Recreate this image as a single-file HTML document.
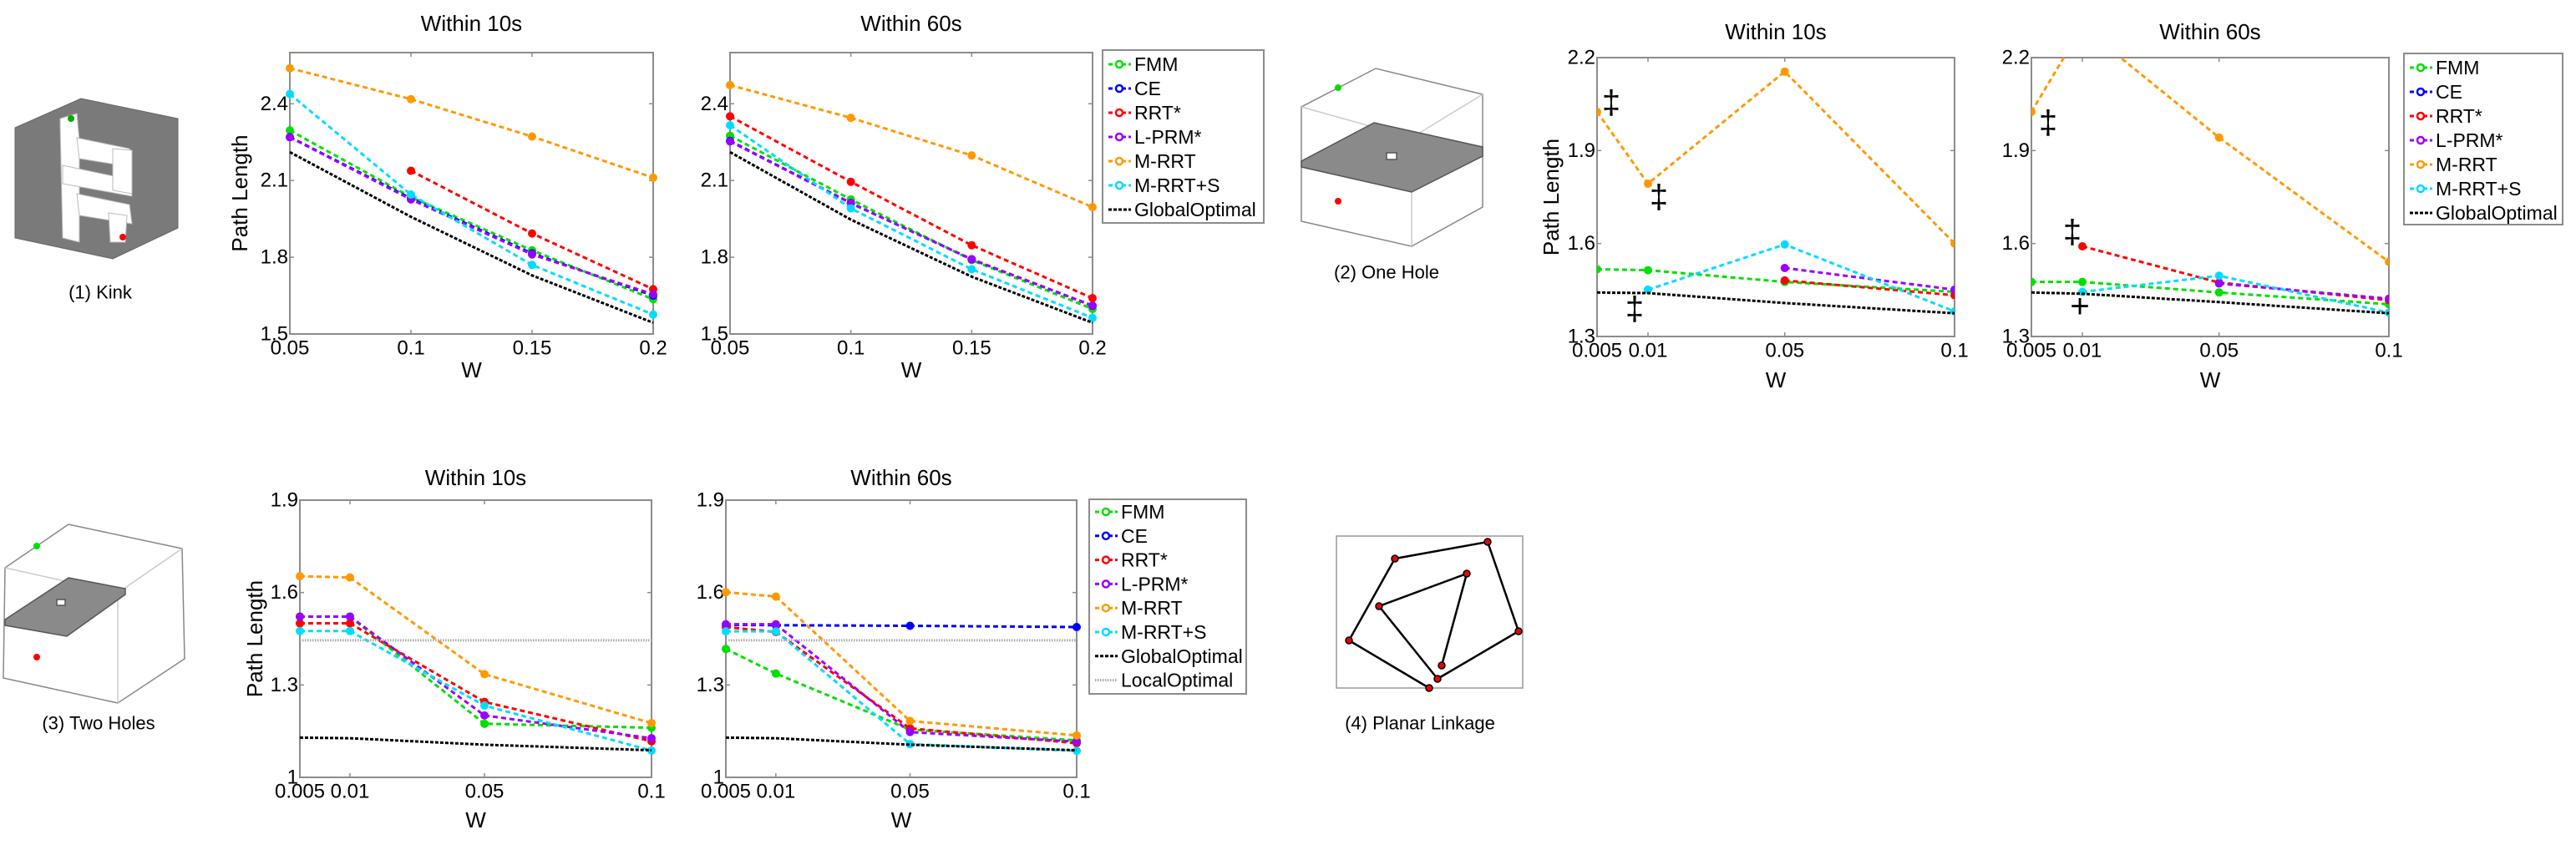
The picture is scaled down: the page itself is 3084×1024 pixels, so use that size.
<!DOCTYPE html>
<html><head><meta charset="utf-8">
<style>
html,body{margin:0;padding:0;background:#fff;}
svg{display:block;font-family:"Liberation Sans",sans-serif;}
</style></head>
<body>
<svg id="fig" width="3084" height="1024" viewBox="0 0 3084 1024" xmlns="http://www.w3.org/2000/svg">
<defs>
<clipPath id="clipC"><rect x="1912" y="69" width="428" height="334"/></clipPath>
<clipPath id="clipD"><rect x="2432" y="69" width="428" height="334"/></clipPath>
</defs>

<!-- (1) Kink illustration -->
<g>
<polygon points="97,118 213,142 213,273 135,310 18,285 18,153" fill="#7a7a7a" stroke="#666"/>
<polygon points="72,142 92,136 95,168 95,290 75,285 72,150" fill="#fff" stroke="#bbb"/>
<polygon points="92,165 155,178 158,200 95,190" fill="#fff" stroke="#bbb"/>
<polygon points="75,198 155,215 158,235 75,220" fill="#fff" stroke="#bbb"/>
<polygon points="92,232 155,245 158,268 95,258" fill="#fff" stroke="#bbb"/>
<polygon points="135,178 158,180 158,232 135,228" fill="#fff" stroke="#bbb"/>
<polygon points="130,255 152,258 150,290 132,290" fill="#fff" stroke="#bbb"/>
<circle cx="85" cy="142" r="4" fill="#0a0"/>
<circle cx="147" cy="284" r="4" fill="#f00"/>
</g>
<text x="120" y="350" font-size="22" text-anchor="middle" dominant-baseline="central">(1) Kink</text>

<!-- (2) One hole illustration -->
<g fill="none" stroke="#888" stroke-width="1.5">
<polygon points="1647,82 1775,113 1775,248 1690,295 1558,265 1558,128"/>
<line x1="1558" y1="128" x2="1690" y2="165" stroke="#ccc"/>
<line x1="1690" y1="165" x2="1775" y2="113" stroke="#ccc"/>
<line x1="1690" y1="165" x2="1690" y2="295" stroke="#ccc"/>
<polygon points="1645,147 1775,176 1775,187 1690,230 1558,200 1558,193" fill="#8a8a8a" stroke="#555"/>
<rect x="1660" y="183" width="12" height="8" fill="#fff" stroke="#555"/>
<circle cx="1602" cy="105" r="4" fill="#0d0" stroke="none"/>
<circle cx="1602" cy="241" r="4" fill="#f00" stroke="none"/>
</g>
<text x="1660" y="326" font-size="22" text-anchor="middle" dominant-baseline="central">(2) One Hole</text>

<!-- (3) Two holes illustration -->
<g fill="none" stroke="#888" stroke-width="1.5">
<polygon points="82,628 218,657 221,789 141,842 4,812 6,680"/>
<line x1="6" y1="680" x2="141" y2="710" stroke="#ccc"/>
<line x1="141" y1="710" x2="218" y2="657" stroke="#ccc"/>
<line x1="141" y1="710" x2="141" y2="842" stroke="#ccc"/>
<polygon points="82,692 150,705 150,712 80,762 6,749 6,742" fill="#8a8a8a" stroke="#555"/>
<rect x="68" y="718" width="10" height="7" fill="#fff" stroke="#555"/>
<circle cx="44" cy="654" r="4" fill="#0d0" stroke="none"/>
<circle cx="44" cy="787" r="4" fill="#f00" stroke="none"/>
</g>
<text x="118" y="866" font-size="22" text-anchor="middle" dominant-baseline="central">(3) Two Holes</text>

<!-- (4) Planar linkage -->
<g>
<rect x="1600" y="642" width="223" height="182" fill="none" stroke="#999" stroke-width="1.5"/>
<g stroke="#000" stroke-width="2.5" fill="none">
<line x1="1781" y1="649" x2="1670" y2="669"/>
<line x1="1670" y1="669" x2="1615" y2="767"/>
<line x1="1781" y1="649" x2="1818" y2="756"/>
<line x1="1818" y1="756" x2="1721" y2="813"/>
<line x1="1756" y1="687" x2="1651" y2="726"/>
<line x1="1756" y1="687" x2="1726" y2="797"/>
<line x1="1651" y1="726" x2="1721" y2="813"/>
<line x1="1615" y1="767" x2="1711" y2="824"/>
</g>
<g fill="#e00" stroke="#000" stroke-width="1.5">
<circle cx="1781" cy="649" r="4"/><circle cx="1670" cy="669" r="4"/><circle cx="1756" cy="687" r="4"/>
<circle cx="1651" cy="726" r="4"/><circle cx="1615" cy="767" r="4"/><circle cx="1818" cy="756" r="4"/>
<circle cx="1726" cy="797" r="4"/><circle cx="1721" cy="813" r="4"/><circle cx="1711" cy="824" r="4"/>
</g>
</g>
<text x="1700" y="866" font-size="22" text-anchor="middle" dominant-baseline="central">(4) Planar Linkage</text>

<g id="charts"></g>
</svg>

<script>
// ---------- data ----------
const kinkW = [0.05, 0.1, 0.15, 0.2];
const holeW = [0.005, 0.01, 0.05, 0.1];
const methods = ["FMM","CE","RRT*","L-PRM*","M-RRT","M-RRT+S","GlobalOptimal"];

// Kink, within 10s
const kink10_FMM    = [2.296, 2.035, 1.827, 1.636];
const kink10_CE     = [2.27, 2.03, 1.815, 1.65];
const kink10_RRT    = [null, 2.138, 1.893, 1.675];
const kink10_LPRM   = [2.269, 2.026, 1.811, 1.655];
const kink10_MRRT   = [2.539, 2.418, 2.272, 2.111];
const kink10_MRRTS  = [2.438, 2.045, 1.770, 1.576];
const kink10_Global = [2.211, 1.958, 1.729, 1.544];
// Kink, within 60s
const kink60_FMM    = [2.275, 2.026, 1.789, 1.598];
const kink60_CE     = [2.255, 2.012, 1.792, 1.610];
const kink60_RRT    = [2.351, 2.095, 1.847, 1.640];
const kink60_LPRM   = [2.253, 2.011, 1.792, 1.611];
const kink60_MRRT   = [2.473, 2.345, 2.198, 1.996];
const kink60_MRRTS  = [2.316, 1.991, 1.753, 1.563];
const kink60_Global = [2.211, 1.947, 1.724, 1.544];
// One hole, within 10s
const one10_FMM    = [1.517, 1.514, 1.476, 1.444];
const one10_CE     = [null, null, null, null];
const one10_RRT    = [null, null, 1.481, 1.433];
const one10_LPRM   = [null, null, 1.521, 1.451];
const one10_MRRT   = [2.025, 1.793, 2.155, 1.600];
const one10_MRRTS  = [null, 1.451, 1.597, 1.381];
const one10_Global = [1.442, 1.440, 1.408, 1.375];
// One hole, within 60s
const one60_FMM    = [1.476, 1.476, 1.442, 1.404];
const one60_CE     = [null, null, null, null];
const one60_RRT    = [null, 1.591, 1.474, 1.417];
const one60_LPRM   = [null, null, 1.471, 1.422];
const one60_MRRT   = [2.025, 2.30, 1.942, 1.541];
const one60_MRRTS  = [null, 1.444, 1.496, 1.377];
const one60_Global = [1.442, 1.438, 1.411, 1.375];
// Two holes, within 10s
const two10_FMM    = [1.522, 1.522, 1.174, 1.161];
const two10_CE     = [null, null, null, null];
const two10_RRT    = [1.500, 1.500, 1.245, 1.117];
const two10_LPRM   = [1.522, 1.522, 1.201, 1.127];
const two10_MRRT   = [1.653, 1.649, 1.335, 1.176];
const two10_MRRTS  = [1.475, 1.475, 1.233, 1.087];
const two10_Global = [1.129, 1.127, 1.106, 1.088];
const two10_Local  = [1.445, 1.445, 1.445, 1.445];
// Two holes, within 60s
const two60_FMM    = [1.417, 1.337, 1.155, 1.120];
const two60_CE     = [1.495, 1.494, 1.492, 1.488];
const two60_RRT    = [1.488, 1.472, 1.159, 1.111];
const two60_LPRM   = [1.497, 1.497, 1.147, 1.116];
const two60_MRRT   = [1.601, 1.587, 1.183, 1.136];
const two60_MRRTS  = [1.474, 1.474, 1.108, 1.086];
const two60_Global = [1.129, 1.127, 1.106, 1.088];
const two60_Local  = [1.445, 1.445, 1.445, 1.445];

const kinkYTicks = [1.5, 1.8, 2.1, 2.4];
const oneYTicks  = [1.3, 1.6, 1.9, 2.2];
const twoYTicks  = [1, 1.3, 1.6, 1.9];
const kinkXLabels = ["0.05","0.1","0.15","0.2"];
const holeXLabels = ["0.005","0.01","0.05","0.1"];

// ---------- styles ----------
const COLORS = {"FMM":"#00e000","CE":"#0000ff","RRT*":"#ff0000","L-PRM*":"#9900ff","M-RRT":"#ff9900","M-RRT+S":"#00dcff","GlobalOptimal":"#000000","LocalOptimal":"#aaaaaa"};
const NS = "http://www.w3.org/2000/svg";
const root = document.getElementById("charts");
function mk(tag, attrs, parent){
  const e = document.createElementNS(NS, tag);
  for (const k in attrs) e.setAttribute(k, attrs[k]);
  (parent||root).appendChild(e);
  return e;
}
function slug(s){return s.toLowerCase().replace(/\*/g,"-star").replace(/\+/g,"-plus-").replace(/[^a-z0-9]+/g,"-").replace(/-+$/,"");}

function drawChart(c){
  const g = mk("g", {});
  
  
  const cats = c.cats;
  const xs = i => c.x0 + c.xfrac[i]*(c.x1-c.x0);
  const ys = v => c.y1 - (v - c.ymin)/(c.ymax-c.ymin)*(c.y1-c.y0);
  // axes box
  const box = mk("rect", {x:c.x0, y:c.y0, width:c.x1-c.x0, height:c.y1-c.y0, fill:"none", stroke:"#8c8c8c", "stroke-width":2}, g);
  
  
  // x ticks
  cats.forEach((v,i)=>{
    const x = xs(i);
    mk("line",{x1:x,y1:c.y1,x2:x,y2:c.y1-5,stroke:"#8c8c8c","stroke-width":1.5},g);
    mk("line",{x1:x,y1:c.y0,x2:x,y2:c.y0+5,stroke:"#8c8c8c","stroke-width":1.5},g);
    const t = mk("text",{x:x,y:c.tickY,"font-size":24,"text-anchor":"middle","dominant-baseline":"central"},g);
    t.textContent = c.xlabels[i];
    
    
  });
  // y ticks
  c.yticks.forEach(v=>{
    const y = ys(v);
    mk("line",{x1:c.x0,y1:y,x2:c.x0+5,y2:y,stroke:"#8c8c8c","stroke-width":1.5},g);
    mk("line",{x1:c.x1,y1:y,x2:c.x1-5,y2:y,stroke:"#8c8c8c","stroke-width":1.5},g);
    const t = mk("text",{x:c.x0-2,y:y,"font-size":24,"text-anchor":"end","dominant-baseline":"central"},g);
    t.textContent = String(v);
    
    
  });
  // title
  const tt = mk("text",{x:(c.x0+c.x1)/2,y:c.titleY,"font-size":26,"text-anchor":"middle","dominant-baseline":"central"},g);
  tt.textContent = c.title;
  
  
  const wl = mk("text",{x:(c.x0+c.x1)/2,y:c.wY,"font-size":26,"text-anchor":"middle","dominant-baseline":"central"},g);
  wl.textContent = "W";
  
  
  if (c.ylabelX){
    const yl = mk("text",{x:c.ylabelX,y:(c.y0+c.y1)/2,"font-size":26,"text-anchor":"middle","dominant-baseline":"central",transform:`rotate(-90 ${c.ylabelX} ${(c.y0+c.y1)/2})`},g);
    yl.textContent = "Path Length";
    
    
  }
  // series
  const sg = mk("g", c.clip ? {"clip-path":`url(#${c.clip})`} : {}, g);
  c.series.forEach(s=>{
    const col = COLORS[s.label];
    const sgrp = mk("g",{},sg);
    
    
    let segs = [], cur = [];
    s.values.forEach((v,i)=>{
      if (v===null){ if(cur.length) segs.push(cur); cur=[]; }
      else cur.push([xs(i), ys(v)]);
    });
    if (cur.length) segs.push(cur);
    const isLocal = s.label==="LocalOptimal", isGlobal = s.label==="GlobalOptimal";
    segs.forEach(seg=>{
      if (seg.length<2) return;
      const p = mk("polyline",{points:seg.map(q=>q.join(",")).join(" "),fill:"none",stroke:col,
        "stroke-width": isLocal?3:3, "stroke-dasharray": isLocal?"1.5,1.5":(isGlobal?"4,2":"6,4")},sgrp);
      
      
    });
    if (!isLocal && !isGlobal){
      s.values.forEach((v,i)=>{
        if (v===null) return;
        const m = mk("circle",{cx:xs(i),cy:ys(v),r:4.5,fill:col,stroke:col,"stroke-width":1},sgrp);
        
        
      });
    }
  });
}

function drawLegend(x0,y0,x1,y1,labels,firstY,step){
  const g = mk("g",{});
  
  
  mk("rect",{x:x0,y:y0,width:x1-x0,height:y1-y0,fill:"#fff",stroke:"#8c8c8c","stroke-width":2},g);
  labels.forEach((lab,i)=>{
    const y = firstY + i*step;
    const col = COLORS[lab];
    const e = mk("g",{},g);
    
    
    const loc = lab==="LocalOptimal", glob = lab==="GlobalOptimal";
    mk("line",{x1:x0+7,y1:y,x2:x0+34,y2:y,stroke:col,"stroke-width":3,"stroke-dasharray":loc?"1.5,1.5":(glob?"4,2":"5,3")},e);
    if(!loc && !glob) mk("circle",{cx:x0+20,cy:y,r:4,fill:"#fff",stroke:col,"stroke-width":2.5},e);
    const t = mk("text",{x:x0+38,y:y,"font-size":23,"dominant-baseline":"central"},e);
    t.textContent = lab;
  });
}

function seriesOf(vals, withLocal){
  const out = methods.map((m,i)=>({label:m, values:vals[i]}));
  if (withLocal) out.push({label:"LocalOptimal", values:withLocal});
  // draw CE first so others overlay it
  return out;
}
const linFrac = [0, 1/3, 2/3, 1];
const holeFrac = [0, 0.1425, 0.525, 1];

drawChart({name:"kink-10s-chart",x0:347,x1:782,y0:63,y1:400,ymin:1.5,ymax:2.6,yticks:kinkYTicks,cats:kinkW,xlabels:kinkXLabels,xfrac:linFrac,
  title:"Within 10s",titleY:28,tickY:417,wY:443,ylabelX:287,
  series:seriesOf([kink10_FMM,kink10_CE,kink10_RRT,kink10_LPRM,kink10_MRRT,kink10_MRRTS,kink10_Global])});
drawChart({name:"kink-60s-chart",x0:874,x1:1308,y0:63,y1:400,ymin:1.5,ymax:2.6,yticks:kinkYTicks,cats:kinkW,xlabels:kinkXLabels,xfrac:linFrac,
  title:"Within 60s",titleY:28,tickY:417,wY:443,
  series:seriesOf([kink60_FMM,kink60_CE,kink60_RRT,kink60_LPRM,kink60_MRRT,kink60_MRRTS,kink60_Global])});
drawLegend(1320,60,1513,267,methods,77,29);

drawChart({name:"one-hole-10s-chart",x0:1912,x1:2340,y0:69,y1:403,ymin:1.3,ymax:2.2,yticks:oneYTicks,cats:holeW,xlabels:holeXLabels,xfrac:holeFrac,
  title:"Within 10s",titleY:38,tickY:420,wY:455,ylabelX:1857,clip:"clipC",
  series:seriesOf([one10_FMM,one10_CE,one10_RRT,one10_LPRM,one10_MRRT,one10_MRRTS,one10_Global])});
drawChart({name:"one-hole-60s-chart",x0:2432,x1:2860,y0:69,y1:403,ymin:1.3,ymax:2.2,yticks:oneYTicks,cats:holeW,xlabels:holeXLabels,xfrac:holeFrac,
  title:"Within 60s",titleY:38,tickY:420,wY:455,clip:"clipD",
  series:seriesOf([one60_FMM,one60_CE,one60_RRT,one60_LPRM,one60_MRRT,one60_MRRTS,one60_Global])});
drawLegend(2878,64,3068,269,methods,81,29);

drawChart({name:"two-holes-10s-chart",x0:359,x1:780,y0:599,y1:931,ymin:1,ymax:1.9,yticks:twoYTicks,cats:holeW,xlabels:holeXLabels,xfrac:holeFrac,
  title:"Within 10s",titleY:572,tickY:948,wY:982,ylabelX:305,
  series:seriesOf([two10_FMM,two10_CE,two10_RRT,two10_LPRM,two10_MRRT,two10_MRRTS,two10_Global],two10_Local)});
drawChart({name:"two-holes-60s-chart",x0:869,x1:1289,y0:599,y1:931,ymin:1,ymax:1.9,yticks:twoYTicks,cats:holeW,xlabels:holeXLabels,xfrac:holeFrac,
  title:"Within 60s",titleY:572,tickY:948,wY:982,
  series:seriesOf([two60_FMM,two60_CE,two60_RRT,two60_LPRM,two60_MRRT,two60_MRRTS,two60_Global],two60_Local)});
drawLegend(1304,598,1492,831,methods.concat(["LocalOptimal"]),613,28.8);

// dagger annotations
const marks = [["‡",1929,123],["‡",1986,236],["‡",1957,370],["‡",2452,147],["‡",2481,278],["+",2490,367]];
marks.forEach(m=>{
  const t = mk("text",{x:m[1],y:m[2],"font-size":40,"text-anchor":"middle","dominant-baseline":"central"});
  t.textContent = m[0];
  
  
});
</script>
</body></html>
